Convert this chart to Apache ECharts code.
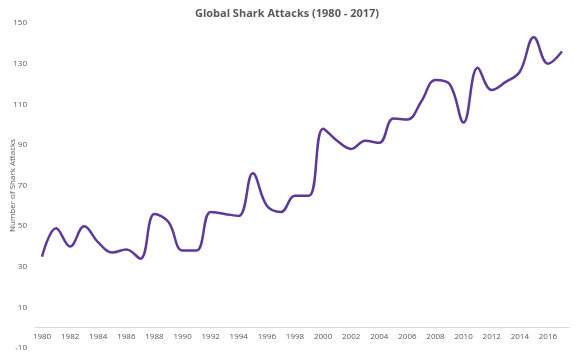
<!DOCTYPE html>
<html>
<head>
<meta charset="utf-8">
<script src="https://cdn.jsdelivr.net/npm/echarts@6/dist/echarts.min.js"></script>
<style>
html,body{margin:0;padding:0;background:#fff;}
#chart{width:574px;height:355px;}
</style>
</head>
<body>
<div id="chart"></div>
<script>
var years = ['1980','1981','1982','1983','1984','1985','1986','1987','1988','1989','1990','1991','1992','1993','1994','1995','1996','1997','1998','1999','2000','2001','2002','2003','2004','2005','2006','2007','2008','2009','2010','2011','2012','2013','2014','2015','2016','2017'];
var attacks = [35,49,40,50,42,37,38.5,34,56,52,38,38,57,56,55,76,60,57,65,65,98,92,88,92,91,103,102.5,111.5,122,120,101,128,117,121,126,143,130,136];
var yTicks = [-10,10,30,50,70,90,110,130,150];

var chart = echarts.init(document.getElementById('chart'));
var txt = '#595959';
var ff = '"Open Sans", "Liberation Sans", sans-serif';
chart.setOption({
  animation:false,
  title:{text:'Global Shark Attacks (1980 - 2017)', left:'center', top:3,
    textStyle:{fontSize:11, fontWeight:'bold', color:txt, fontFamily:ff}},
  grid:{left:35, right:5, top:23, bottom:7, containLabel:false, outerBoundsMode:'none'},
  xAxis:{type:'category', data:years, boundaryGap:true,
    axisLine:{onZero:true, lineStyle:{color:'#d9d9d9', width:1}},
    axisTick:{show:false},
    axisLabel:{interval:1, color:txt, fontSize:8, fontFamily:ff, margin:-15},
    splitLine:{show:false}},
  yAxis:{type:'value', min:-10, max:150,
    name:'Number of Shark Attacks', nameLocation:'middle', nameRotate:90, nameGap:18,
    nameMoveOverlap:false,
    nameTextStyle:{fontSize:8, color:txt, fontFamily:ff},
    axisLine:{show:false}, axisTick:{show:false}, splitLine:{show:false},
    axisLabel:{customValues:yTicks, color:txt, fontSize:8, fontFamily:ff, margin:8}},
  series:[{type:'line', data:attacks, smooth:0.4, showSymbol:false,
    lineStyle:{color:'#5d3a98', width:2.5}, itemStyle:{color:'#5d3a98'}}]
});
</script>
</body>
</html>
